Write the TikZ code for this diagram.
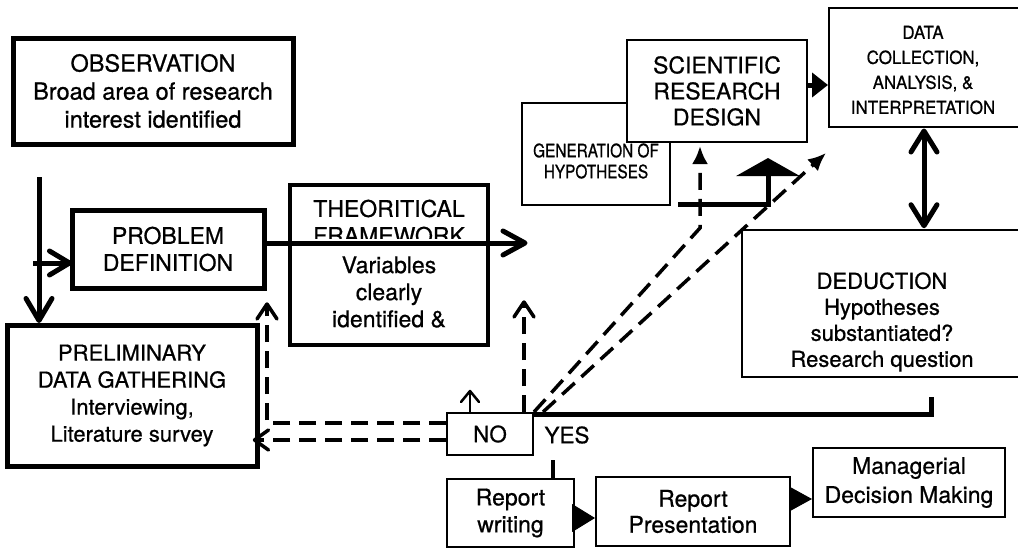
\documentclass[tikz,border=0pt]{standalone}
\usepackage{fontspec}
\setmainfont{TeX Gyre Heros}[FakeBold=0.7]
\newfontfamily\narrowA{TeX Gyre Heros}[FakeStretch=0.83,FakeBold=0.7]
\newfontfamily\narrowB{TeX Gyre Heros}[FakeStretch=0.94,FakeBold=0.7]
\usetikzlibrary{arrows.meta}
\tikzset{
  box/.style={draw, rectangle, inner sep=0pt, align=center, fill=white, line width=2pt},
  thickbox/.style={box, line width=5pt},
  tx/.style={inner sep=0pt, align=center},
  dsh/.style={line width=3.5pt, dash pattern=on 17pt off 9pt},
  heavy/.style={line width=5pt},
  dart/.style={-{Latex[length=18pt,width=16pt]}},
  barbhead/.style={line cap=round, line join=round},
}
\newcommand\mybarb[4][5pt]{\draw[barbhead, line width=#1] ([shift={#3}]#2) -- (#2) -- ([shift={#4}]#2);}
\begin{document}
\begin{tikzpicture}[x=1pt,y=-1pt]
\clip (0,0) rectangle (1018,549);
\fill[white] (0,0) rectangle (1018,549);

% boxes
\node[thickbox, minimum width=280pt, minimum height=106pt, font=\fontsize{23.5}{28}\selectfont] (obs) at (153,91) {OBSERVATION\\Broad area of research\\interest identified};
\node[thickbox, minimum width=192pt, minimum height=78pt, font=\fontsize{23}{27}\selectfont] (prob) at (168,249) {PROBLEM\\DEFINITION};
\node[thickbox, minimum width=250pt, minimum height=141pt, font=\fontsize{22}{27}\selectfont] (prel) at (132,395.5) {PRELIMINARY\\DATA GATHERING\\Interviewing,\\Literature survey};

\node[box, line width=4.5pt, minimum width=198pt, minimum height=160pt] (theo) at (389,265) {};
\node[tx, font=\fontsize{23}{27}\selectfont] (theoT) at (389,222) {THEORITICAL\\FRAMEWORK};
\fill[white] (293,239) rectangle (485,250);
\node[tx, font=\fontsize{23}{27}\selectfont] (theoV) at (389,292) {Variables\\clearly\\identified \&};

\node[box, minimum width=148pt, minimum height=102pt] (gen) at (596,154) {};
\node[tx, font=\narrowA\fontsize{18.5}{21}\selectfont] (genT) at (596,161) {GENERATION OF\\HYPOTHESES};
\node[box, line width=2.5pt, minimum width=180pt, minimum height=102pt, font=\fontsize{23}{26}\selectfont] (sci) at (717,91) {SCIENTIFIC\\RESEARCH\\DESIGN};

\node[box, minimum width=201pt, minimum height=119pt] (data) at (929.5,67.5) {};
\node[tx, font=\narrowB\fontsize{18}{25}\selectfont] (dataT) at (923,70) {DATA\\COLLECTION,\\ANALYSIS, \&\\INTERPRETATION};

\node[box, line width=2.5pt, minimum width=288pt, minimum height=147pt] (ded) at (886,303.5) {};
\node[tx, font=\fontsize{22}{26}\selectfont] (dedT) at (882,322) {DEDUCTION\\Hypotheses\\substantiated?\\Research question};

\node[box, minimum width=86pt, minimum height=42pt, font=\fontsize{22.5}{26}\selectfont] (no) at (490,434) {NO};
\node[tx, font=\fontsize{22.5}{26}\selectfont] (yes) at (567,435) {YES};

\node[box, minimum width=127pt, minimum height=68pt, font=\fontsize{23}{27}\selectfont] (rw) at (510.5,513) {Report\\writing};
\node[box, minimum width=194pt, minimum height=69pt, font=\fontsize{23}{26}\selectfont] (rp) at (693,511.5) {Report\\Presentation};
\node[box, minimum width=192pt, minimum height=69pt, font=\fontsize{23}{29}\selectfont] (md) at (909,482.5) {Managerial\\Decision Making};

% solid connectors with open barb heads
\coordinate (v0) at (39,177);
\coordinate (v1) at ([yshift=2pt]v0 |- prel.north);
\draw[heavy] (v0) -- (v1);
\mybarb{v1}{(-13,-22)}{(13,-22)}

\coordinate (h0) at (33,263);
\coordinate (h1) at (h0 -| prob.west);
\draw[heavy] (h0) -- (h1);
\mybarb{h1}{(-20,-12)}{(-20,12)}

\coordinate (m1) at (525,243);
\draw[heavy] (prob.east |- m1) -- (m1);
\mybarb{m1}{(-22,-12)}{(-22,12)}

\draw[line width=5pt, -{Triangle[length=16pt,width=24pt]}] ([yshift=6pt]sci.east) -- ([yshift=6pt]sci.east -| data.west);

\coordinate (dx) at (924,0);
\coordinate (dtop) at ([yshift=-3pt]data.south -| dx);
\coordinate (dbot) at ([yshift=3pt]ded.north -| dx);
\draw[heavy] (dtop) -- (dbot);
\mybarb{dtop}{(-13,21)}{(13,21)}
\mybarb{dbot}{(-13,-21)}{(13,-21)}

\coordinate (b0) at (678,204);
\coordinate (b1) at (768,158);
\draw[line width=5pt, -{Triangle[length=18pt,width=63pt]}] (b0) -| (b1);

\coordinate (y1) at (931,397);
\draw[heavy] ([yshift=-2pt]no.north east) -| (y1);
\coordinate (s0) at (553,460);
\draw[line width=4pt] (s0) -- (s0 |- rw.north);

\draw[line width=1pt, -{Triangle[length=23pt,width=28pt]}] ([yshift=-5pt]rw.east) -- ([yshift=-5pt]rw.east -| rp.west);
\draw[line width=1pt, -{Triangle[length=23pt,width=25pt]}] ([yshift=12.5pt]rp.east) -- ([yshift=12.5pt]rp.east -| md.west);

% dashed connectors
\coordinate (d1end) at (267,304);
\draw[dsh] ([yshift=11pt]no.west) -| (d1end);
\mybarb[3.5pt]{d1end}{(-10,15)}{(10,15)}
\coordinate (d2end) at ([xshift=-5pt,yshift=-6pt]no.west -| prel.east);
\draw[dsh] ([yshift=-6pt]no.west) -- (d2end);
\mybarb[3.5pt]{d2end}{(14,-10)}{(14,10)}
\coordinate (d3end) at (524,302);
\draw[dsh] (no.north -| d3end) -- (d3end);
\mybarb[3.5pt]{d3end}{(-10,15)}{(10,15)}
\coordinate (d4end) at (470,391);
\draw[line width=2pt] (no.north -| d4end) -- (d4end);
\mybarb[2.5pt]{d4end}{(-9,11)}{(9,11)}
\coordinate (d5b) at (700,228);
\coordinate (d5end) at (700,146);
\draw[dsh, dart] (no.north east) -- (d5b) -- (d5end);
\coordinate (d6end) at (826,153);
\draw[dsh, dart] ([xshift=9pt]no.north east) -- (d6end);
\end{tikzpicture}
\end{document}
